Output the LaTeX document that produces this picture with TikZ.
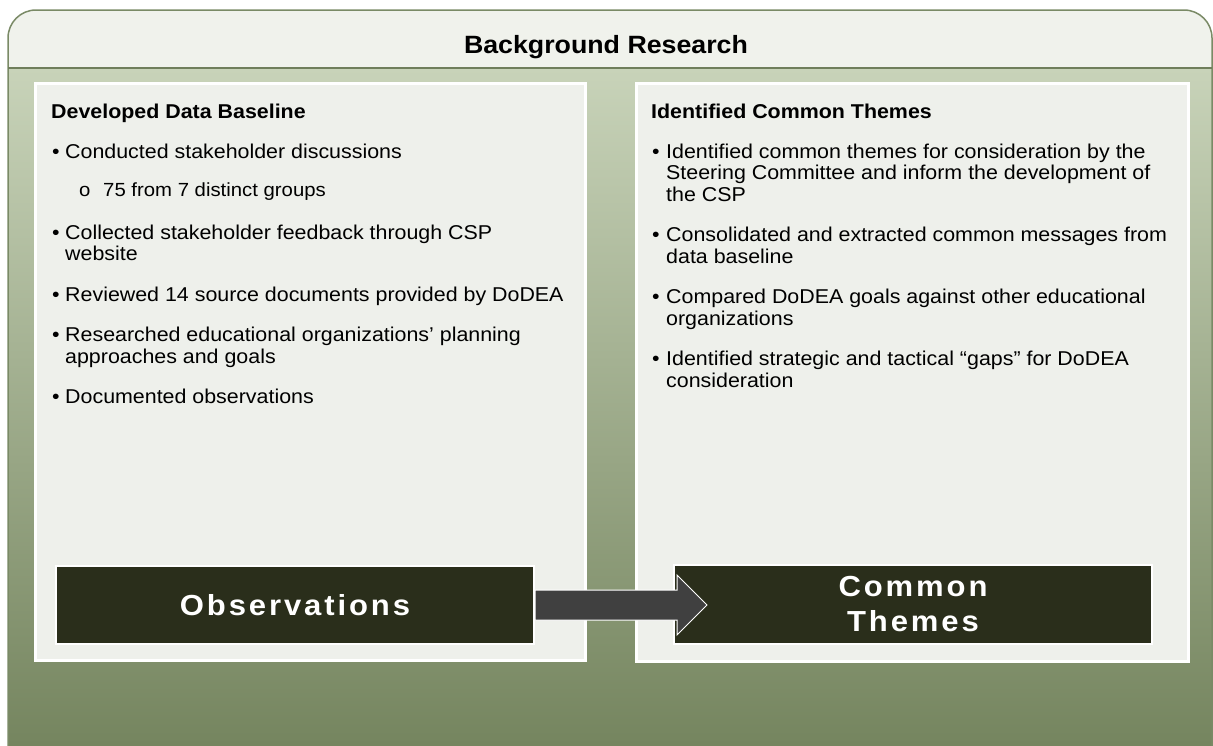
\documentclass[tikz,border=0pt]{standalone}
\usepackage{fontspec}
\setmainfont{Liberation Sans}[FakeStretch=1.07]
\newfontfamily\boxfont{Liberation Sans Bold}[FakeStretch=1.07,LetterSpace=10]
\definecolor{headfill}{HTML}{F0F2EC}
\definecolor{sepline}{HTML}{6F7E5B}
\definecolor{outline}{HTML}{7A8A66}
\definecolor{bodytop}{HTML}{C8D3B9}
\definecolor{bodybot}{HTML}{75855F}
\definecolor{panelfill}{HTML}{EEF0EB}
\definecolor{darkfill}{HTML}{2A2E1B}
\definecolor{arrowfill}{HTML}{404040}
\tikzset{
  panel/.style={fill=panelfill,draw=white,line width=3pt,anchor=north west,inner sep=0pt},
  darkbox/.style={fill=darkfill,draw=white,line width=2pt,text=white,inner sep=0pt,
     font=\boxfont\fontsize{29}{35}\selectfont,align=center},
  bodytxt/.style={anchor=base west,inner sep=0pt,font=\fontsize{20}{24}\selectfont},
  subtxt/.style={anchor=base west,inner sep=0pt,font=\fontsize{19}{23}\selectfont},
  headtxt/.style={anchor=base west,inner sep=0pt,font=\bfseries\fontsize{20}{24}\selectfont},
  arrowst/.style={fill=arrowfill,draw=white,line width=1pt,line join=miter}
}
\begin{document}
\begin{tikzpicture}[x=1pt,y=-1pt]
\useasboundingbox (0,0) rectangle (1213,745);
\begin{scope}
  \clip[rounded corners=28pt] (8,10) rectangle (1212,800);
  \shade[top color=bodytop,bottom color=bodybot] (0,68) rectangle (1213,745);
  \fill[headfill] (0,0) rectangle (1213,68);
\end{scope}
\draw[outline,line width=1.5pt,rounded corners=28pt] (8,10) rectangle (1212,800);
\draw[sepline,line width=2pt] (8,68) -- (1212,68);

\node[anchor=base,inner sep=0pt,font=\bfseries\fontsize{25}{30}\selectfont] (title) at (606,53) {Background Research};

% panels
\node[panel,minimum width=550pt,minimum height=577pt] (lp) at (34,82) {};
\node[panel,minimum width=552pt,minimum height=578pt] (rp) at (635,82) {};

% left column
\node[headtxt] (lh) at (51,118) {Developed Data Baseline};
\node[bodytxt] (lb1) at (52,158) {•};
\node[bodytxt] (l1a) at (65,158) {Conducted stakeholder discussions};
\node[subtxt] (lsb) at (79,196) {o};
\node[subtxt] (l1s) at (103,196) {75 from 7 distinct groups};
\node[bodytxt] (lb2) at (52,239) {•};
\node[bodytxt] (l2a) at (65,239) {Collected stakeholder feedback through CSP};
\node[bodytxt] (l2b) at (65,260.5) {website};
\node[bodytxt] (lb3) at (52,301) {•};
\node[bodytxt] (l3a) at (65,301) {Reviewed 14 source documents provided by DoDEA};
\node[bodytxt] (lb4) at (52,341.5) {•};
\node[bodytxt] (l4a) at (65,341.5) {Researched educational organizations’ planning};
\node[bodytxt] (l4b) at (65,363) {approaches and goals};
\node[bodytxt] (lb5) at (52,403) {•};
\node[bodytxt] (l5a) at (65,403) {Documented observations};

% right column
\node[headtxt] (rh) at (651,118) {Identified Common Themes};
\node[bodytxt] (rb1) at (652,158) {•};
\node[bodytxt] (r1a) at (666,158) {Identified common themes for consideration by the};
\node[bodytxt] (r1b) at (666,179.5) {Steering Committee and inform the development of};
\node[bodytxt] (r1c) at (666,201) {the CSP};
\node[bodytxt] (rb2) at (652,241.5) {•};
\node[bodytxt] (r2a) at (666,241.5) {Consolidated and extracted common messages from};
\node[bodytxt] (r2b) at (666,263) {data baseline};
\node[bodytxt] (rb3) at (652,303.5) {•};
\node[bodytxt] (r3a) at (666,303.5) {Compared DoDEA goals against other educational};
\node[bodytxt] (r3b) at (666,325) {organizations};
\node[bodytxt] (rb4) at (652,365.5) {•};
\node[bodytxt] (r4a) at (666,365.5) {Identified strategic and tactical “gaps” for DoDEA};
\node[bodytxt] (r4b) at (666,387) {consideration};

% dark boxes
\node[darkbox,minimum width=478pt,minimum height=78pt] (obs) at (295,605) {Observations};
\node[darkbox,minimum width=478pt,minimum height=79pt] (cth) at (913,604.5) {Common\\Themes};

% arrow
\path[arrowst] (obs.east) ++(0,-15) -- ++(142,0) -- ++(0,-15) -- ++(30,30)
   -- ++(-30,30) -- ++(0,-15) -- ++(-142,0) -- cycle;
\end{tikzpicture}
\end{document}
